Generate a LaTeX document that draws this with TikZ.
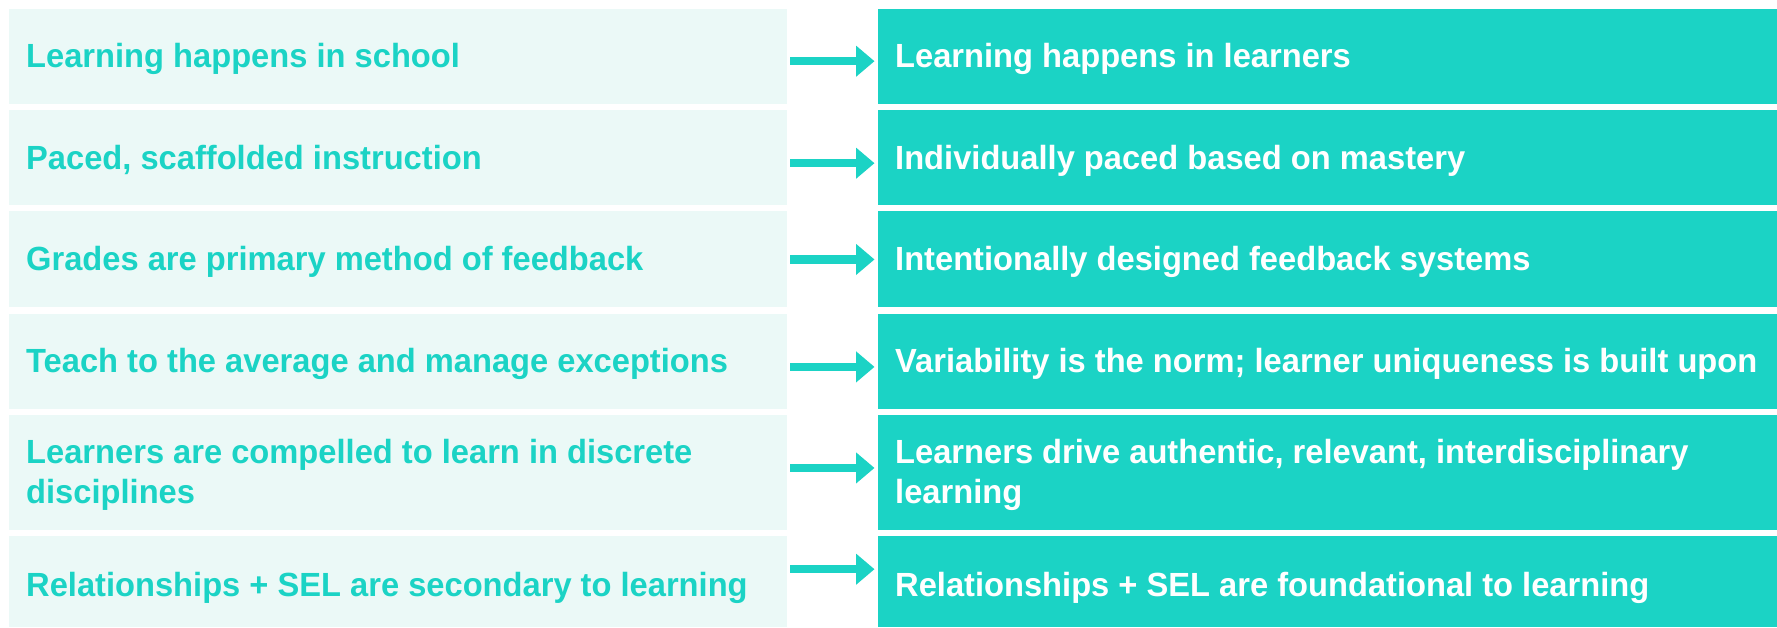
\documentclass[tikz,border=0pt]{standalone}
\usepackage{fontspec}
\setmainfont{Liberation Sans}
\newfontfamily\boxfont[FakeStretch=0.975]{Liberation Sans}
\usetikzlibrary{arrows.meta}
\definecolor{tealA}{RGB}{27,211,197}
\definecolor{paleA}{RGB}{235,249,247}
\begin{document}
\begin{tikzpicture}[x=1pt,y=-1pt,
  lbox/.style={fill=paleA, draw=none, inner sep=0pt, anchor=north west, minimum width=777.7pt},
  rbox/.style={fill=tealA, draw=none, inner sep=0pt, anchor=north west, minimum width=899.5pt},
  ltext/.style={text=tealA, font=\boxfont\bfseries\fontsize{33.5}{40}\selectfont, inner sep=0pt, anchor=base west, align=left},
  rtext/.style={ltext, text=white},
  arr/.style={draw=tealA, line width=8.3pt, -{Triangle[length=18.5pt,width=30pt]}}]
\useasboundingbox (0,0) rectangle (1777,627);
\fill[white] (0,0) rectangle (1777,627);
% left boxes
\node[lbox, minimum height=95pt] (L1) at (9,8.3) {};
\node[lbox, minimum height=95pt] (L2) at (9,110) {};
\node[lbox, minimum height=95.7pt] (L3) at (9,211) {};
\node[lbox, minimum height=95pt] (L4) at (9,313.3) {};
\node[lbox, minimum height=114.5pt] (L5) at (9,415) {};
\node[lbox, minimum height=91pt] (L6) at (9,536) {};
% right boxes
\node[rbox, minimum height=95pt] (R1) at (877.5,8.3) {};
\node[rbox, minimum height=95pt] (R2) at (877.5,110) {};
\node[rbox, minimum height=95.7pt] (R3) at (877.5,211) {};
\node[rbox, minimum height=95pt] (R4) at (877.5,313.3) {};
\node[rbox, minimum height=114.5pt] (R5) at (877.5,415) {};
\node[rbox, minimum height=91pt] (R6) at (877.5,536) {};
% texts left
\node[ltext] (LT1) at (26,67.8) {Learning happens in school};
\node[ltext] (LT2) at (26,169.5) {Paced, scaffolded instruction};
\node[ltext] (LT3) at (26,270.9) {Grades are primary method of feedback};
\node[ltext] (LT4) at (26,372.8) {Teach to the average and manage exceptions};
\node[ltext] (LT5) at (26,503) {Learners are compelled to learn in discrete\\disciplines};
\node[ltext] (LT6) at (26,596) {Relationships + SEL are secondary to learning};
% texts right
\node[rtext] (RT1) at (895,67.8) {Learning happens in learners};
\node[rtext] (RT2) at (895,169.5) {Individually paced based on mastery};
\node[rtext] (RT3) at (895,270.9) {Intentionally designed feedback systems};
\node[rtext] (RT4) at (895,372.8) {Variability is the norm; learner uniqueness is built upon};
\node[rtext] (RT5) at (895,503) {Learners drive authentic, relevant, interdisciplinary\\learning};
\node[rtext] (RT6) at (895,596) {Relationships + SEL are foundational to learning};
% arrows
\draw[arr] ([shift={(3.3,5.2)}]L1.east) -- ([shift={(-3,5.2)}]R1.west);
\draw[arr] ([shift={(3.3,5.5)}]L2.east) -- ([shift={(-3,5.5)}]R2.west);
\draw[arr] ([shift={(3.3,0.4)}]L3.east) -- ([shift={(-3,0.4)}]R3.west);
\draw[arr] ([shift={(3.3,5.9)}]L4.east) -- ([shift={(-3,5.9)}]R4.west);
\draw[arr] ([shift={(3.3,-4.5)}]L5.east) -- ([shift={(-3,-4.5)}]R5.west);
\draw[arr] ([shift={(3.3,-12.5)}]L6.east) -- ([shift={(-3,-12.5)}]R6.west);
\end{tikzpicture}
\end{document}
